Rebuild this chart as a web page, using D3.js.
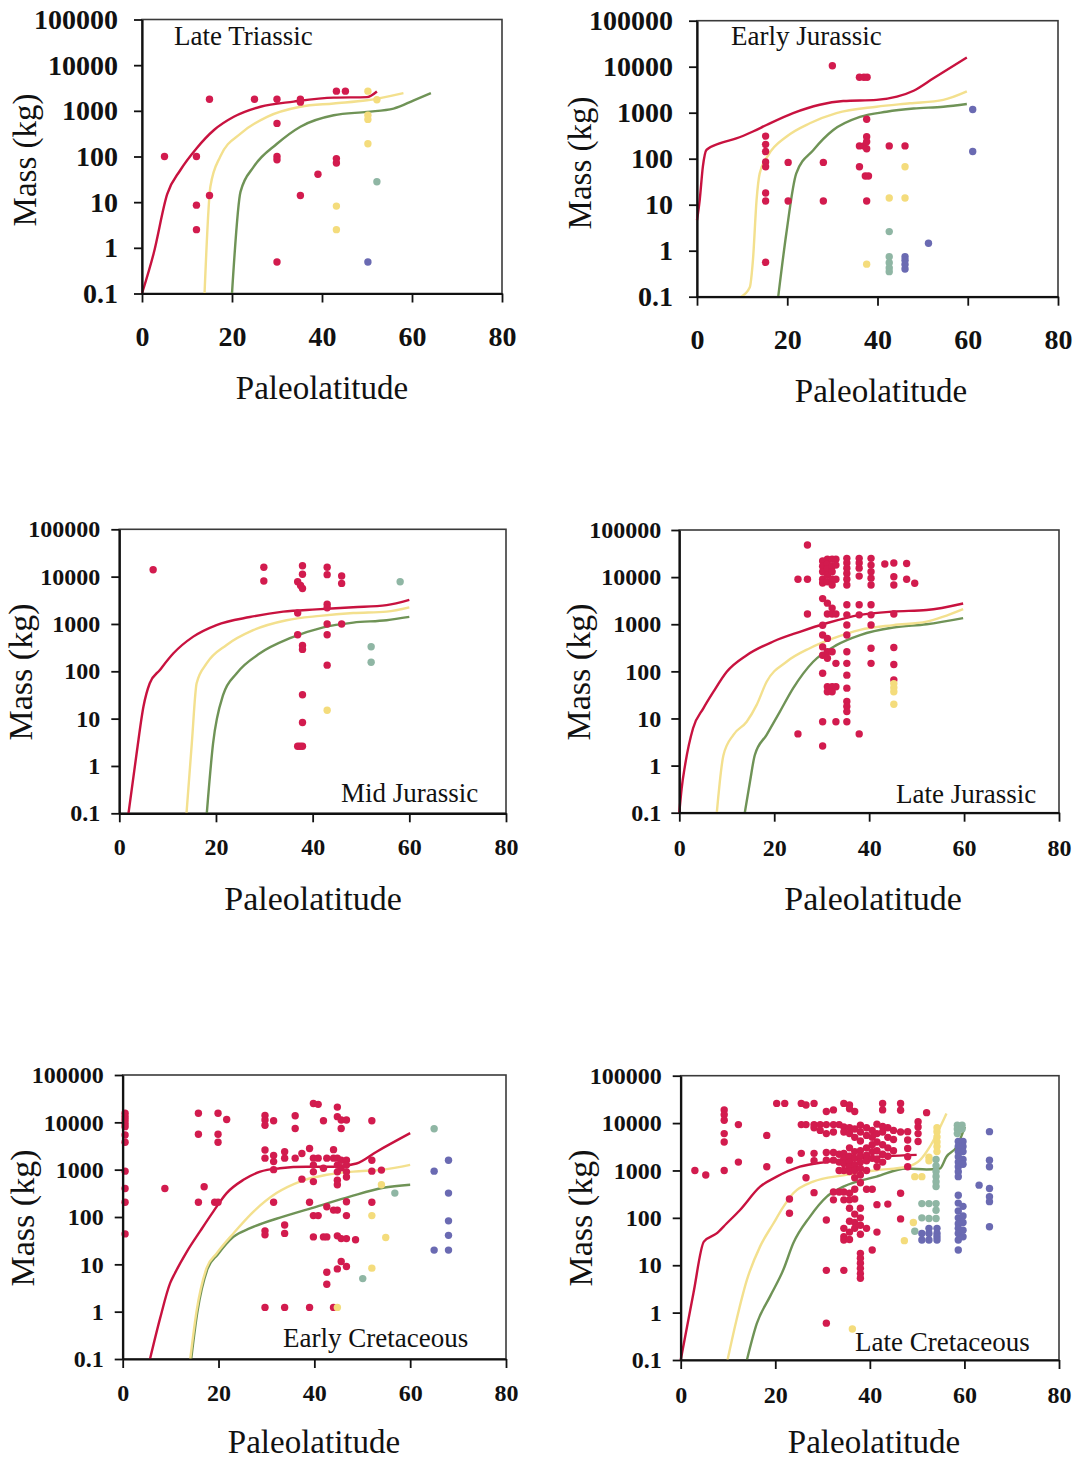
<!DOCTYPE html>
<html><head><meta charset="utf-8">
<script src="https://cdn.jsdelivr.net/npm/d3@7"></script>
<style>body{margin:0;background:#fff} svg{display:block}</style>
</head><body><svg id="c" width="1089" height="1462"></svg>
<script>
// ---------- shared ticks / labels ----------
const massTicks = [0.1, 1, 10, 100, 1000, 10000, 100000];
const massTickLabels = ["0.1", "1", "10", "100", "1000", "10000", "100000"];
const latTicks = [0, 20, 40, 60, 80];
const periods = ["Late Triassic", "Early Jurassic", "Mid Jurassic", "Late Jurassic", "Early Cretaceous", "Late Cretaceous"];
const xTitle = "Paleolatitude";
const yTitle = "Mass (kg)";

// ---------- Late Triassic ----------
const ltRed = [[5,100],[12.1,100],[12.1,8.6],[12.1,2.5],[15,1800],[15,14],[25,1800],[30,1800],[30,530],[30,100],[30,85],[30,0.49],[35.2,1800],[35.2,1550],[35.2,14],[39.1,41],[43.2,2700],[45.2,2700],[43.2,90],[43.2,72]];
const ltYellow = [[50.2,2700],[50.2,800],[50.2,650],[50.2,190],[52.2,1750],[43.2,8.2],[43.2,2.5]];
const ltTeal = [[52.2,28]];
const ltBlue = [[50.2,0.49]];
const ltRedLine = [[0,0.1],[2.6,0.76],[5.6,15],[8.5,50],[12.1,150],[16,380],[20.4,740],[26.3,1230],[33.7,1590],[42.6,1950],[50,2000],[52.2,2650]];
const ltYellowLine = [[13.9,0.1],[15.2,22],[17.4,100],[21.9,316],[27.8,740],[35.2,1230],[42.6,1450],[50,1700],[58.1,2450]];
const ltGreenLine = [[20,0.1],[21.9,17],[24.8,59],[30,190],[35.2,450],[42.6,800],[50,950],[55.9,1120],[60.4,1700],[64.2,2450]];

// ---------- Early Jurassic ----------
const ejRed = [[30,10500],[36,5900],[37,5900],[37.7,5900],[15.2,310],[15.2,205],[15.2,143],[15.2,85],[15.2,67],[15.2,18],[15.2,12],[15.2,0.56],[20.2,83],[20.2,12],[28,83],[28,12],[36,67],[36,190],[37,190],[37.6,720],[37.6,300],[37.6,235],[37.6,165],[37.3,42],[38,42],[37.6,12],[42.6,190],[46.1,190]];
const ejYellow = [[46.1,67],[42.6,14],[46.1,14],[37.6,0.51]];
const ejTeal = [[42.6,2.6],[42.6,0.74],[42.6,0.55],[42.6,0.42],[42.6,0.35]];
const ejBlue = [[46.1,0.74],[46.1,0.62],[46.1,0.5],[46.1,0.4],[51.3,1.45],[61.1,1170],[61.1,143]];
const ejRedLine = [[0,4.6],[0.6,12.6],[1.3,67],[2.1,155],[5,215],[8.7,275],[12.4,390],[15.4,540],[21.3,980],[27.2,1490],[32.4,1790],[39.8,1900],[44.3,2230],[48,3000],[52.4,5600],[59.8,15800]];
const ejYellowLine = [[9.8,0.1],[11.7,0.16],[12.4,0.63],[13.2,12.6],[13.9,48],[15.8,120],[19.8,300],[25,590],[30.9,980],[39.8,1350],[47.2,1600],[54.6,1900],[59.8,2900]];
const ejGreenLine = [[18,0.1],[19.8,2.4],[22,48],[25.8,155],[30.2,420],[36.1,810],[42,1050],[48,1230],[54.6,1350],[59.8,1550]];

// ---------- Mid Jurassic ----------
const mjRed = [[7,14000],[29.9,15800],[29.9,8100],[36.9,7800],[37.5,6500],[37.9,5600],[37.9,17000],[37.9,11200],[36.9,1700],[36.9,590],[37.9,350],[37.9,290],[37.9,32],[37.9,8.3],[36.9,2.6],[37.4,2.6],[37.9,2.6],[43,15800],[43,11000],[43,2600],[43,2200],[43,1000],[43,590],[43,135],[46,10300],[46,7200],[46,1000]];
const mjYellow = [[43,15]];
const mjTeal = [[58.1,7800],[52.1,330],[52.1,155]];
const mjBlue = [];
const mjRedLine = [[1.9,0.1],[3.6,1.9],[5,18],[6.3,56],[8.4,107],[11.2,240],[15.3,540],[20.1,950],[27,1400],[33.9,1820],[40.8,2030],[48.4,2250],[55.3,2500],[60,3230]];
const mjYellowLine = [[13.9,0.1],[15,3],[16,56],[18.1,148],[22.2,360],[27.7,740],[34.6,1200],[41.5,1480],[48.4,1700],[55.3,1820],[60,2240]];
const mjGreenLine = [[18.1,0.1],[19.4,3],[21.5,32],[24.3,91],[29.1,240],[35.3,500],[42.2,850],[48.4,1070],[55.3,1200],[60,1410]];

// ---------- Late Jurassic (columns: latitude, masses) ----------
const ljRed = [
  [25.0,[9000,4.7]],
  [27.0,[48000,9000,1650]],
  [30.2,[22000,17000,13000,9000,7500,3500,950,590,330,220,91,8.5,2.6]],
  [31.2,[24000,19000,15000,11000,8000,2800,1650,500,260,190,47,37]],
  [32.2,[24000,17000,13000,9000,6800,2200,1650,260,47,37]],
  [33.0,[24000,18000,9000,1650,148,47,8.5]],
  [35.3,[25000,20000,15500,12000,9000,6800,2600,1580,960,590,260,148,83,44,23,18,14,8.5]],
  [37.9,[25000,20000,15500,10500,2600,1580,4.7]],
  [40.4,[25000,18000,13000,9500,6800,2600,1580,960,310,148]],
  [43.3,[19000]],
  [45.2,[20000,10200,6800,1650,320,140,66]],
  [47.9,[19500,9000]],
  [49.6,[7400]]
];
const ljYellow = [[45.2,[55,45,37,20]]];
const ljTeal = [];
const ljBlue = [];
const ljRedLine = [[0,0.1],[0.5,0.33],[1.2,1.0],[2.9,6.2],[5.1,16.6],[7.2,37],[10,98],[14.2,220],[19.8,430],[25.4,690],[31,1050],[38.1,1580],[45.1,1860],[52.1,2000],[59.8,2760]];
const ljYellowLine = [[7.9,0.1],[9.3,1.66],[11.4,4.5],[14.2,8.5],[16.3,19.4],[18.4,60],[22.6,160],[27.5,310],[32.4,500],[38.1,760],[45.1,960],[52.1,1140],[59.8,2100]];
const ljGreenLine = [[13.8,0.1],[14.9,0.46],[15.9,1.66],[18.4,4.5],[21.2,14],[24,44],[28.2,160],[33.1,360],[38.1,590],[45.1,850],[52.1,1000],[59.8,1350]];

// ---------- Early Cretaceous ----------
const ecRed = [
  [0.5,[15500,13200,11200,9500,8100,5400,3800,930,400,205,44]],
  [8.8,[400]],
  [15.8,[15500,5600,205]],
  [17.0,[435]],
  [19.2,[205]],
  [19.9,[15500,5600,3800,205]],
  [21.7,[11500]],
  [29.7,[14000,11200,8700,2600,1750,51,42,1.23]],
  [31.5,[10800,2000,1480,1000,205]],
  [33.8,[2400,1750,68,45,1.23]],
  [36.0,[13800,7400,1750]],
  [37.4,[2200,630]],
  [39.0,[2800,205,1.23]],
  [39.8,[25000,1750,1250,900,560,107,38]],
  [40.8,[24000,1750,107]],
  [41.9,[10800,1070,38]],
  [42.6,[1750,165,38,6.8,3.8]],
  [44.0,[2650,1750,140,1.23]],
  [44.8,[21000,13200,1750,1250,900,600,480,140,40,8]],
  [45.6,[11200,7400,1580,1100,35,11.5]],
  [46.7,[11200,1580,1250,900,700,210,107,35,9]],
  [48.6,[33]],
  [52.0,[10800,1580,930,205]],
  [54.0,[980]]
];
const ecYellow = [[44.8,[1.23]],[54,[480]],[52,[107,8.3]],[54.9,[37]]];
const ecTeal = [[65,[7300]],[56.8,[320]],[50.1,[5.0]]];
const ecBlue = [[65,[930,20]],[68,[1580,320,83,41,20]]];
const ecRedLine = [[5.7,0.1],[7.8,0.72],[9.9,4],[10.9,6.5],[13.4,18.6],[16.1,49],[18.9,130],[21.7,320],[25.2,610],[28.7,910],[32.8,1070],[38.4,1150],[44,1150],[48.8,1350],[53,2400],[60,5900]];
const ecYellowLine = [[14.1,0.1],[15.4,1],[17.5,8.3],[19.6,17],[23.1,45],[27.3,130],[32.1,320],[37,560],[42.6,780],[48.1,910],[54.4,1000],[60,1260]];
const ecGreenLine = [[14.3,0.1],[15.6,1],[17.7,8],[19.8,16],[23.1,38],[26.6,58],[33.5,102],[40.5,166],[47.4,270],[54.4,415],[60,480]];

// ---------- Late Cretaceous ----------
const lcRed = [
  [3.0,[1000]],[5.3,[800]],
  [9.2,[19000,15000,11500,6000,4000,1000]],
  [12.2,[9300,1500]],
  [18.2,[5500,1200]],
  [20.3,[26000]],[22.0,[26000]],
  [23.0,[1650,250,125]],
  [25.5,[26000,9300,2300]],
  [26.5,[24000,9300,700]],
  [28.2,[26000,9300,8000,2300,1600,340]],
  [29.5,[9300,7000]],
  [30.8,[17500,9300,6000,2400,1650,90,7.8,0.6]],
  [32.3,[19000,9300,6500,2400,1650,350,240]],
  [33.5,[9300,2200,1500,1000,350]],
  [34.5,[26000,8300,6500,2300,1800,1400,1000,350,240,60,40,34,7.8]],
  [35.7,[24000,20000,8000,6000,3000,2000,1500,1200,950,330,240,160,85,50,35]],
  [36.8,[17500,7500,5000,2500,1800,1300,1000,700,400,250,120,80,60]],
  [38.0,[9000,6500,4200,2600,2000,1500,1100,800,550,160,100,70,45,17.8,14,11,8.6,6.7,5.3]],
  [39.3,[8000,5500,3000,2100,1600,1000,400,60]],
  [40.5,[7000,5000,3500,2500,1800,400,21]],
  [41.5,[9500,6000,4000,2600,1700,1200,190,50]],
  [42.7,[26000,19000,8500,6500,3500,2200,1500]],
  [43.8,[8000,5000,3000,2000,195]],
  [45.0,[7000,4500,2600]],
  [46.5,[26000,18600,6500,330,95]],
  [48.0,[6600,4400,2900,1950,1200]],
  [50.2,[10700,8300,6000,4100]],
  [52.0,[16600]]
];
const lcYellow = [[54.2,[8000,6600,5100,4000,3200,2500]],[52.5,[1900,1600]],[49.5,[740]],[51,[740]],[49.2,[80]],[47.3,[33]],[36.3,[0.45]]];
const lcTeal = [[54.0,[1700,1250,950,750,580,460,200,145,97]],[52.5,[200,97]],[51,[200,100]],[49.5,[52]],[58.5,[9000,7500,6000]],[59.5,[9000,7500]]];
const lcBlue = [[52.5,[60,47,34]],[51,[47,34]],[54.2,[60,47,40,34]],
  [58.7,[4100,3200,2500,1950,1500,1200,940,740,300,205,140,100,75,60,47,34,21]],
  [59.7,[4100,3200,2500,1700,1350,175,110,80,55,40]],
  [63.1,[490]],[65.3,[6600,1650,1200,415,280,220,65]]];
const lcRedLine = [[0,0.1],[2.7,2.6],[4.9,31.5],[7.6,47],[9.7,76],[12.5,145],[16.8,455],[20.3,740],[25.2,1200],[30.9,1520],[36.5,1780],[43.6,2000],[49.9,2130]];
const lcYellowLine = [[9.9,0.1],[11.8,0.7],[14,4.9],[16.8,25],[19.6,76],[21.7,170],[23.8,330],[28,580],[34.4,790],[41.4,1010],[47.8,1200],[50.6,1660],[52.7,3200],[56.2,16000]];
const lcGreenLine = [[14,0.1],[16.1,0.59],[18.9,2.2],[21.7,8],[23.8,29],[27.3,105],[30.9,280],[34.4,455],[41.4,740],[47.8,1100],[52,1050],[54.8,1100],[56.2,1950],[58.4,3200],[60.1,8300]];

// ---------- colours ----------
const C = {red:"#d21b4e", redLine:"#c8123f", yellow:"#f4dc7c", yellowLine:"#f3e08e", teal:"#8fb6a4", blue:"#6a6ab2", greenLine:"#6f9356"};

// ---------- layout ----------
const panels = [
  {i:0, red:ltRed, yellow:ltYellow, teal:ltTeal, blue:ltBlue, rl:ltRedLine, yl:ltYellowLine, gl:ltGreenLine,
   b:{x0:142,x1:502,yT:19.5,yB:293.5}, tf:28, tgap:24, xdy:43, lab:[174,36], xt:[322,387,33], yt:[24,160,33]},
  {i:1, red:ejRed, yellow:ejYellow, teal:ejTeal, blue:ejBlue, rl:ejRedLine, yl:ejYellowLine, gl:ejGreenLine,
   b:{x0:697,x1:1058,yT:20.7,yB:296.7}, tf:28, tgap:24, xdy:43, lab:[731,36], xt:[881,390,33], yt:[579,163,33]},
  {i:2, red:mjRed, yellow:mjYellow, teal:mjTeal, blue:mjBlue, rl:mjRedLine, yl:mjYellowLine, gl:mjGreenLine,
   b:{x0:119.3,x1:506,yT:529.3,yB:813.3}, tf:24, tgap:19, xdy:34, lab:[341,793], xt:[313,898,34], yt:[20,672,34]},
  {i:3, red:ljRed, yellow:ljYellow, teal:ljTeal, blue:ljBlue, rl:ljRedLine, yl:ljYellowLine, gl:ljGreenLine,
   b:{x0:679.3,x1:1059,yT:530,yB:812.7}, tf:24, tgap:18, xdy:35, lab:[896,794], xt:[873,898,34], yt:[578,672,34]},
  {i:4, red:ecRed, yellow:ecYellow, teal:ecTeal, blue:ecBlue, rl:ecRedLine, yl:ecYellowLine, gl:ecGreenLine,
   b:{x0:122.7,x1:506,yT:1075,yB:1359}, tf:24, tgap:19, xdy:34, lab:[283,1338], xt:[314,1441,33], yt:[22,1218,34]},
  {i:5, red:lcRed, yellow:lcYellow, teal:lcTeal, blue:lcBlue, rl:lcRedLine, yl:lcYellowLine, gl:lcGreenLine,
   b:{x0:680.7,x1:1059,yT:1075.7,yB:1360}, tf:24, tgap:19, xdy:35, lab:[855,1342], xt:[874,1441,33], yt:[580,1218,34]}
];

const svg = d3.select("#c");
const serif = "'Liberation Serif','Times New Roman',Times,serif";

// expand [lat,mass] or [lat,[masses]] into points
const expand = arr => arr.flatMap(d => Array.isArray(d[1]) ? d[1].map(m => [d[0], m]) : [d]);

panels.forEach(p => {
  const x = d3.scaleLinear().domain([0, 80]).range([p.b.x0, p.b.x1]);
  const y = d3.scaleLog().domain([0.1, 100000]).range([p.b.yB, p.b.yT]);
  const g = svg.append("g");

  g.append("rect").attr("x", p.b.x0).attr("y", p.b.yT)
    .attr("width", p.b.x1 - p.b.x0).attr("height", p.b.yB - p.b.yT)
    .attr("fill", "none").attr("stroke", "#3a3a3a").attr("stroke-width", 1.6);

  const line = d3.line().x(d => x(d[0])).y(d => y(d[1])).curve(d3.curveMonotoneX);
  [[p.gl, C.greenLine], [p.yl, C.yellowLine], [p.rl, C.redLine]].forEach(([data, col]) => {
    g.append("path").attr("d", line(data)).attr("fill", "none")
      .attr("stroke", col).attr("stroke-width", 2.4).attr("stroke-linejoin", "round");
  });

  [[p.red, C.red], [p.yellow, C.yellow], [p.teal, C.teal], [p.blue, C.blue]].forEach(([data, col]) => {
    g.append("g").selectAll("circle").data(expand(data)).join("circle")
      .attr("cx", d => x(d[0])).attr("cy", d => y(d[1])).attr("r", 3.7).attr("fill", col);
  });

  const ya = d3.axisLeft(y).tickValues(massTicks).tickFormat((d, i) => massTickLabels[i])
    .tickSize(8).tickSizeOuter(0).tickPadding(p.tgap - 8);
  const yg = g.append("g").attr("transform", `translate(${p.b.x0},0)`).call(ya);
  const xa = d3.axisBottom(x).tickValues(latTicks).tickFormat(d3.format("d"))
    .tickSize(9).tickSizeOuter(0);
  const xg = g.append("g").attr("transform", `translate(0,${p.b.yB})`).call(xa);
  xg.selectAll("text").attr("y", p.xdy).attr("dy", "0.34em");
  [yg, xg].forEach(a => {
    a.select(".domain").attr("stroke", "#111").attr("stroke-width", 2.2);
    a.selectAll(".tick line").attr("stroke", "#111").attr("stroke-width", 1.8);
    a.selectAll("text").attr("font-family", serif).attr("font-weight", "bold")
      .attr("font-size", p.tf).attr("fill", "#111");
  });

  g.append("text").attr("x", p.lab[0]).attr("y", p.lab[1]).attr("dy", "0.35em")
    .attr("font-family", serif).attr("font-size", 27).attr("fill", "#111").text(periods[p.i]);
  g.append("text").attr("x", p.xt[0]).attr("y", p.xt[1]).attr("dy", "0.35em")
    .attr("text-anchor", "middle").attr("font-family", serif).attr("font-size", p.xt[2])
    .attr("fill", "#111").text(xTitle);
  g.append("text").attr("transform", `translate(${p.yt[0]},${p.yt[1]}) rotate(-90)`)
    .attr("dy", "0.35em").attr("text-anchor", "middle").attr("font-family", serif)
    .attr("font-size", p.yt[2]).attr("fill", "#111").text(yTitle);
});
</script></body></html>
